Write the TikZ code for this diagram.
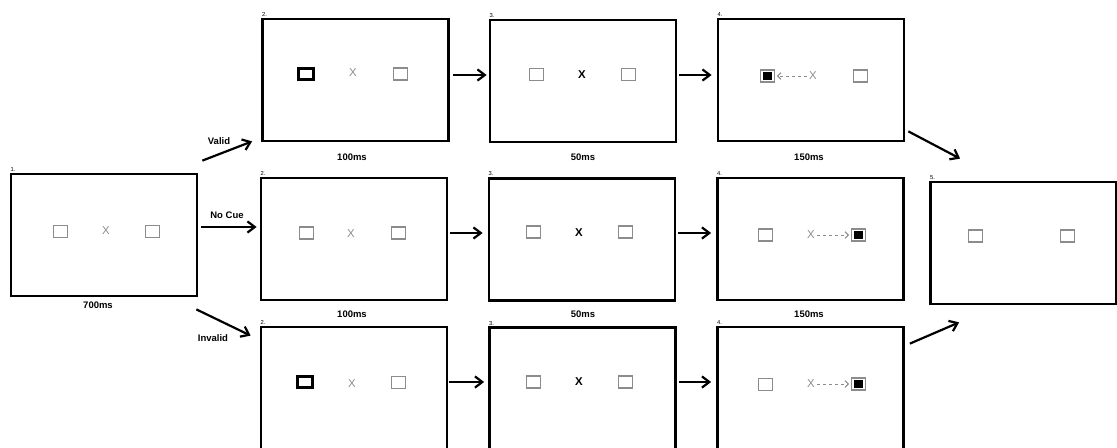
\documentclass[tikz,border=0pt]{standalone}
\usepackage{fontspec}
\setmainfont{Liberation Sans}
\usetikzlibrary{arrows.meta,calc}
\begin{document}
\begin{tikzpicture}[x=0.02cm,y=-0.02cm,
  screen/.style={draw=black,line width=1.6pt,minimum width=3.72cm,minimum height=2.44cm,inner sep=0pt},
  place/.style={draw=gray!90,line width=0.75pt,minimum width=0.28cm,minimum height=0.24cm,inner sep=0pt},
  cuebox/.style={draw=black,line width=1.8pt,minimum width=0.30cm,minimum height=0.22cm,inner sep=0pt},
  target/.style={place,path picture={\fill[black]
      ([shift={(-0.09cm,-0.08cm)}]path picture bounding box.center) rectangle ++(0.18cm,0.16cm);}},
  fix/.style={inner sep=0pt,text=gray!90,font=\fontsize{6.5}{7}\selectfont},
  fixb/.style={inner sep=0pt,text=black,font=\bfseries\fontsize{6.5}{7}\selectfont},
  lbl/.style={inner sep=0pt,font=\bfseries\fontsize{5.4}{6}\selectfont},
  num/.style={anchor=south west,inner sep=0.4pt,font=\fontsize{3.3}{4}\selectfont},
  flow/.style={-{Straight Barb[length=4.2pt,width=6.4pt]},line width=1.25pt},
  cueline/.style={gray!90,line width=0.55pt,dash pattern=on 2pt off 1.4pt,
    -{Straight Barb[length=1.9pt,width=3.8pt]}}
]
\clip (0,0) rectangle (1117,447);
\useasboundingbox (0,0) rectangle (1117,447);

% ---- screens ----
\node[screen] (b1)  at (104,235)   {};
\node[screen] (b2t) at (355.5,80)  {};
\node[screen] (b3t) at (583,81)    {};
\node[screen] (b4t) at (811,80)    {};
\node[screen] (b2m) at (354,239)   {};
\node[screen] (b3m) at (582,239.5) {};
\node[screen] (b4m) at (810.5,239) {};
\node[screen] (b2b) at (354,388)   {};
\node[screen] (b3b) at (582.5,388.5) {};
\node[screen] (b4b) at (810.5,388) {};
\node[screen] (b5)  at (1023.5,243) {};

% ---- screen numbers ----
\node[num] (n1)  at (b1.north west)  {1.};
\node[num] (n2t) at (b2t.north west) {2.};
\node[num] (n3t) at (b3t.north west) {3.};
\node[num] (n4t) at (b4t.north west) {4.};
\node[num] (n2m) at (b2m.north west) {2.};
\node[num] (n3m) at (b3m.north west) {3.};
\node[num] (n4m) at (b4m.north west) {4.};
\node[num] (n2b) at (b2b.north west) {2.};
\node[num] (n3b) at (b3b.north west) {3.};
\node[num] (n4b) at (b4b.north west) {4.};
\node[num] (n5)  at (b5.north west)  {5.};

% ---- durations ----
\node[lbl] (d1)  at (98,305)  {700ms};
\node[lbl] (d2t) at (352,157) {100ms};
\node[lbl] (d3t) at (583,157) {50ms};
\node[lbl] (d4t) at (809,157) {150ms};
\node[lbl] (d2m) at (352,314) {100ms};
\node[lbl] (d3m) at (583,314) {50ms};
\node[lbl] (d4m) at (809,314) {150ms};

% ---- screen 1 ----
\node[place] (p1l) at (60.5,231.5) {};
\node[fix]   (x1)  at (106,231)    {X};
\node[place] (p1r) at (152.5,231.5) {};

% ---- valid row ----
\node[cuebox] (c2t) at (306,74)    {};
\node[fix]    (x2t) at (353,73)    {X};
\node[place]  (r2t) at (400.5,74)  {};
\node[place]  (l3t) at (536.5,74.5) {};
\node[fixb]   (x3t) at (582,74.5)  {X};
\node[place]  (r3t) at (628.5,74.5) {};
\node[target] (t4t) at (767.5,76)  {};
\node[fix]    (x4t) at (813,76)    {X};
\node[place]  (r4t) at (860.5,76)  {};
\draw[cueline,shorten <=1pt,shorten >=1pt] (x4t.west) -- (t4t.east);

% ---- no-cue row ----
\node[place] (l2m) at (306.5,233)  {};
\node[fix]   (x2m) at (351,234)    {X};
\node[place] (r2m) at (398.5,233)  {};
\node[place] (l3m) at (533.5,232)  {};
\node[fixb]  (x3m) at (579,233)    {X};
\node[place] (r3m) at (625.5,232)  {};
\node[place] (l4m) at (765.5,235)  {};
\node[fix]   (x4m) at (811,235)    {X};
\node[target] (t4m) at (858.5,235) {};
\draw[cueline,shorten <=1pt,shorten >=1pt] (x4m.east) -- (t4m.west);

% ---- invalid row ----
\node[cuebox] (c2b) at (305,382)    {};
\node[fix]    (x2b) at (352,384)    {X};
\node[place]  (r2b) at (398.5,382.5) {};
\node[place]  (l3b) at (533.5,382)  {};
\node[fixb]   (x3b) at (579,382)    {X};
\node[place]  (r3b) at (625.5,382)  {};
\node[place]  (l4b) at (765.5,384.5) {};
\node[fix]    (x4b) at (811,384)    {X};
\node[target] (t4b) at (858.5,384)  {};
\draw[cueline,shorten <=1pt,shorten >=1pt] (x4b.east) -- (t4b.west);

% ---- screen 5 ----
\node[place] (l5) at (975.5,236)  {};
\node[place] (r5) at (1067.5,236) {};

% ---- branches from screen 1 ----
\draw[flow] ($(b1.north east)+(4,-12)$) -- ($(b2t.south west)+(-9,-1)$);
\draw[flow] ($(b1.east)+(3,-8)$) -- ($(b2m.west)+(-3,-12)$);
\draw[flow] ($(b1.south east)+(-2,12)$) -- ($(b2b.north west)+(-9,10)$);
\node[lbl] (vl) at (219,141) {Valid};
\node[lbl] (nl) at (227,215) {No Cue};
\node[lbl] (il) at (213,338) {Invalid};

% ---- sequence arrows ----
\draw[flow] ($(b2t.east)+(3,-5)$) -- ($(b3t.west)+(-2,-6)$);
\draw[flow] ($(b3t.east)+(2,-6)$) -- ($(b4t.west)+(-5,-5)$);
\draw[flow] ($(b2m.east)+(2,-6)$) -- ($(b3m.west)+(-5,-6.5)$);
\draw[flow] ($(b3m.east)+(2,-6.5)$) -- ($(b4m.west)+(-5,-6)$);
\draw[flow] ($(b2b.east)+(1,-6)$) -- ($(b3b.west)+(-4,-6.5)$);
\draw[flow] ($(b3b.east)+(2,-6.5)$) -- ($(b4b.west)+(-5,-6)$);

% ---- into screen 5 ----
\draw[flow] ($(b4t.south east)+(3,-11)$) -- ($(b5.north west)+(31,-22)$);
\draw[flow] ($(b4b.north east)+(5,18)$) -- ($(b5.south west)+(30,17)$);
\end{tikzpicture}
\end{document}
